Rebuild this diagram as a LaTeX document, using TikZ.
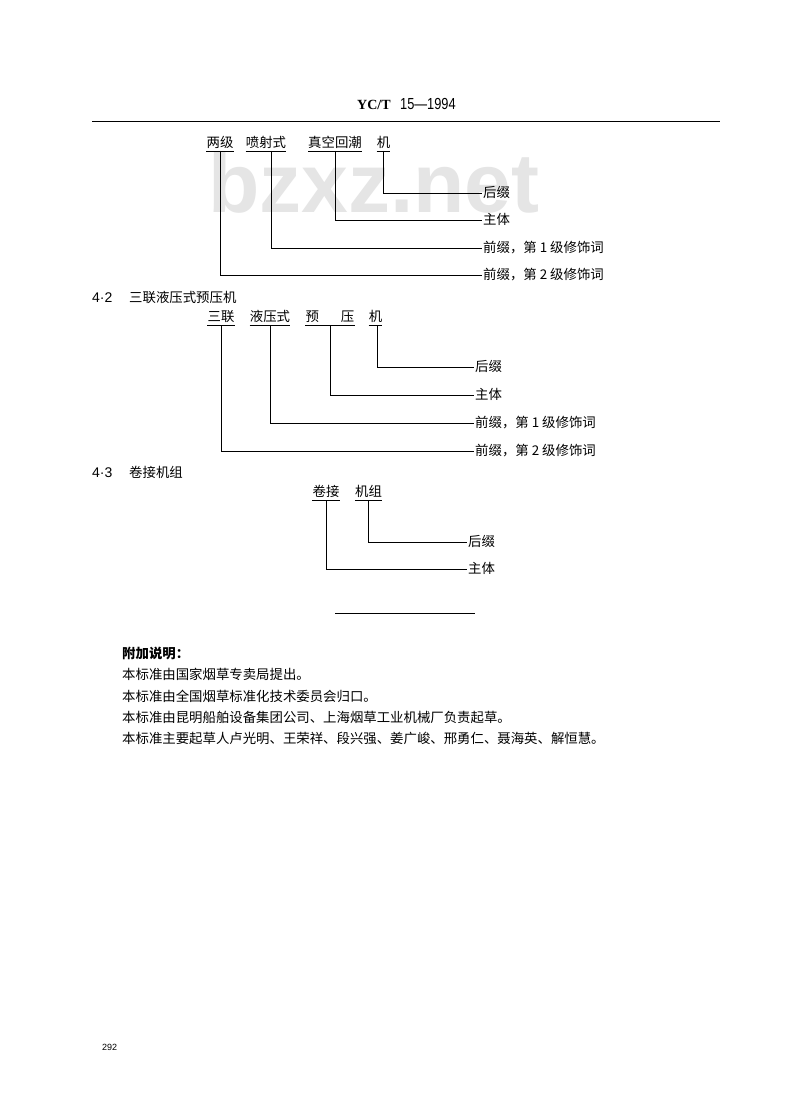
\documentclass[tikz,border=0pt]{standalone}
\usepackage{fontspec}
\setmainfont{Liberation Serif}
\newfontfamily\cjk{Noto Sans CJK SC}
\newfontfamily\plainsf{Liberation Sans}
\newfontfamily\narrowsf[FakeStretch=0.8]{Liberation Sans}
\usetikzlibrary{positioning}
\definecolor{markgrey}{gray}{0.9}

\begin{document}
\begin{tikzpicture}[x=1pt, y=-1pt,
  word/.style={anchor=south, inner xsep=0pt, inner ysep=1.5pt, text height=10pt, text depth=1.5pt, font=\cjk\fontsize{13.4}{14}\selectfont},
  part/.style={anchor=west, inner xsep=1pt, inner ysep=0pt, text height=10pt, text depth=1.5pt, font=\cjk\fontsize{13.4}{14}\selectfont},
  lead/.style={line width=0.7pt},
  uline/.style={line width=0.6pt}]
\fill[white] (0,0) rectangle (800,1110);
\useasboundingbox (0,0) rectangle (800,1110);
% watermark of the scan
\node[anchor=base west, inner sep=0pt, text=markgrey, font=\plainsf\bfseries\fontsize{84}{84}\selectfont] (wm) at (208,212) {bzxz.net};
% head of page
\node[anchor=base west, inner sep=0pt, font=\bfseries\fontsize{14}{14}\selectfont] (hdcode) at (357,110) {YC/T};
\node[anchor=base west, inner sep=0pt, font=\narrowsf\fontsize{16}{16}\selectfont] (hdyear) at (400,110) {15—1994};
\draw[line width=1pt] (92,122) -- (720,122);

% 4.1 words
\node[word] (twoA) at (220,151) {两级};
\node[word] (twoB) at (266,151) {喷射式};
\node[word] (twoC) at (335,151) {真空回潮};
\node[word] (twoD) at (383.5,151) {机};
\node[part] (twoS) at (482,193) {后缀};
\node[part] (twoM) at (482,220) {主体};
\node[part] (twoP) at (482,248) {前缀，第 1 级修饰词};
\node[part] (twoQ) at (482,275) {前缀，第 2 级修饰词};
\draw[lead] (twoD.south) |- (twoS.west);
\draw[lead] (twoC.south) |- (twoM.west);
\draw[lead] ([xshift=5]twoB.south) |- (twoP.west);
\draw[lead] (twoA.south) |- (twoQ.west);

% 4.2
\node[anchor=west, inner sep=0pt, font=\plainsf\fontsize{14}{14}\selectfont] (secB) at (92,298) {4·2};
\node[part] (titB) at (128,298) {三联液压式预压机};
\node[word] (triA) at (221,325) {三联};
\node[word] (triB) at (270,325) {液压式};
\node[word] (triC) at (330,325) {预\hspace{22pt}压};
\node[word] (triD) at (375.5,325) {机};
\node[part] (triS) at (474,367) {后缀};
\node[part] (triM) at (474,395) {主体};
\node[part] (triP) at (474,423) {前缀，第 1 级修饰词};
\node[part] (triQ) at (474,451) {前缀，第 2 级修饰词};
\draw[lead] ([xshift=1.5]triD.south) |- (triS.west);
\draw[lead] (triC.south) |- (triM.west);
\draw[lead] (triB.south) |- (triP.west);
\draw[lead] (triA.south) |- (triQ.west);

% 4.3
\node[anchor=west, inner sep=0pt, font=\plainsf\fontsize{14}{14}\selectfont] (secC) at (92,473) {4·3};
\node[part] (titC) at (128,473) {卷接机组};
\node[word] (rolA) at (326,500) {卷接};
\node[word] (rolB) at (368.5,500) {机组};
\node[part] (rolS) at (467,542) {后缀};
\node[part] (rolM) at (467,569) {主体};
\draw[lead] (rolB.south) |- (rolS.west);
\draw[lead] (rolA.south) |- (rolM.west);

\foreach \w in {twoA,twoB,twoC,twoD,triA,triB,triC,triD,rolA,rolB}
  \draw[uline] (\w.south west) -- (\w.south east);

\draw[line width=1pt] (335,613) -- (475,613);

% additional notes
\node[part, inner xsep=0pt] (noteH) at (122,654) {\bfseries 附加说明：};
\node[part, inner xsep=0pt] (noteA) at (122,675) {本标准由国家烟草专卖局提出。};
\node[part, inner xsep=0pt] (noteB) at (122,697) {本标准由全国烟草标准化技术委员会归口。};
\node[part, inner xsep=0pt] (noteC) at (122,718) {本标准由昆明船舶设备集团公司、上海烟草工业机械厂负责起草。};
\node[part, inner xsep=0pt] (noteD) at (122,739) {本标准主要起草人卢光明、王荣祥、段兴强、姜广峻、邢勇仁、聂海英、解恒慧。};

\node[anchor=west, inner sep=0pt, font=\plainsf\fontsize{9}{9}\selectfont] (pgno) at (102,1047) {292};
\end{tikzpicture}
\end{document}
